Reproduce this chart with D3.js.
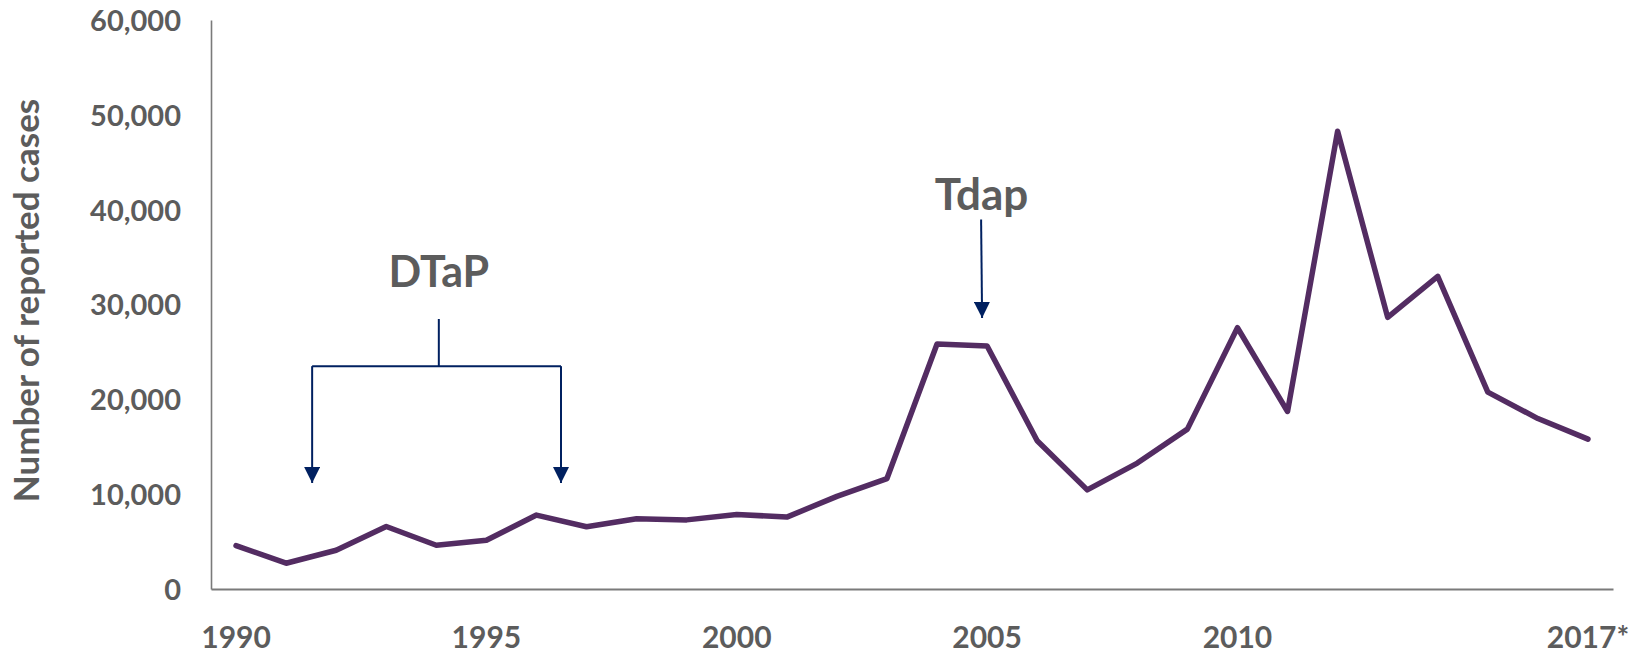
<!DOCTYPE html>
<html>
<head>
<meta charset="utf-8">
<script src="https://cdn.jsdelivr.net/npm/d3@7"></script>
<style>
  html, body { margin: 0; padding: 0; background: #fff; }
  svg { display: block; }
  text { font-family: Lato, "Open Sans", sans-serif; fill: #5c5c5c; }
</style>
</head>
<body>
<svg id="chart" width="1645" height="655"></svg>
<script>
// Reported pertussis cases by year
const years = d3.range(1990, 2018);
const cases = [
  4570, 2719, 4083, 6586, 4617, 5137, 7796, 6564, 7405, 7288,
  7867, 7580, 9771, 11647, 25827, 25616, 15632, 10454, 13278, 16858,
  27550, 18719, 48277, 28639, 32971, 20762, 17972, 15808
];
const yTicks = [0, 10000, 20000, 30000, 40000, 50000, 60000];
const xTickYears = [1990, 1995, 2000, 2005, 2010, 2017];
const xTickLabels = ["1990", "1995", "2000", "2005", "2010", "2017*"];

// Vaccine introduction annotations
const dtapLabel = "DTaP";
const tdapLabel = "Tdap";

const svg = d3.select("#chart");
const plotLeft = 211, plotRight = 1613, plotTop = 20, plotBottom = 589;

const x = d3.scaleBand().domain(years).range([plotLeft, plotRight]);
const y = d3.scaleLinear().domain([0, 60000]).range([plotBottom, plotTop]);
const cx = yr => x(yr) + x.bandwidth() / 2;
// continuous position along the year axis, for annotation placement
const xYear = d3.scaleLinear().domain([1990, 2017]).range([cx(1990), cx(2017)]);

const axisColor = "#7a7a7a";
const textColor = "#5c5c5c";

// Y axis
const gy = svg.append("g").attr("transform", `translate(${plotLeft},0)`)
  .call(d3.axisLeft(y).tickValues(yTicks).tickFormat(d3.format(",")).tickSize(0).tickSizeOuter(0).tickPadding(30));
gy.select(".domain").attr("stroke", axisColor).attr("stroke-width", 1.6);
gy.selectAll("text")
  .attr("font-family", "Lato, sans-serif")
  .attr("font-weight", 700)
  .attr("font-size", 29)
  .attr("fill", textColor)
  .attr("dy", "0.36em");

// X axis
const labelOf = new Map(xTickYears.map((d, i) => [d, xTickLabels[i]]));
const gx = svg.append("g").attr("transform", `translate(0,${plotBottom})`)
  .call(d3.axisBottom(x).tickValues(xTickYears).tickFormat(d => labelOf.get(d)).tickSize(0).tickSizeOuter(0));
gx.select(".domain").attr("stroke", axisColor).attr("stroke-width", 2);
gx.selectAll("text")
  .attr("font-family", "Lato, sans-serif")
  .attr("font-weight", 700)
  .attr("font-size", 30)
  .attr("fill", textColor)
  .attr("y", 59)
  .attr("dy", 0);

// Y axis title
svg.append("text")
  .attr("transform", `translate(39,${(100 + 501) / 2}) rotate(-90)`)
  .attr("text-anchor", "middle")
  .attr("font-size", 35)
  .attr("font-weight", 700)
  .text("Number of reported cases");

// Case line
const line = d3.line()
  .x((d, i) => cx(years[i]))
  .y(d => y(d));
svg.append("path")
  .datum(cases)
  .attr("d", line)
  .attr("fill", "none")
  .attr("stroke", "#532c62")
  .attr("stroke-width", 5.5)
  .attr("stroke-linejoin", "round")
  .attr("stroke-linecap", "round");

// Arrow marker
const navy = "#002060";
svg.append("defs").append("marker")
  .attr("id", "arrow")
  .attr("viewBox", "0 0 10 10")
  .attr("refX", 10).attr("refY", 5)
  .attr("markerWidth", 16).attr("markerHeight", 16)
  .attr("markerUnits", "userSpaceOnUse")
  .attr("orient", "auto")
  .append("path")
  .attr("d", "M0,0 L10,5 L0,10 Z")
  .attr("fill", navy);

// DTaP bracket
const dL = xYear(1991.52), dR = xYear(1996.49), dM = xYear(1994.05);
const barY = y(23500), stemTop = y(28470), tipY = y(11180);
const ann = svg.append("g").attr("stroke", navy).attr("fill", "none").attr("stroke-width", 2);
ann.append("line").attr("x1", dM).attr("x2", dM).attr("y1", stemTop).attr("y2", barY);
ann.append("line").attr("x1", dL).attr("x2", dR).attr("y1", barY).attr("y2", barY);
ann.append("line").attr("x1", dL).attr("x2", dL).attr("y1", barY).attr("y2", tipY).attr("marker-end", "url(#arrow)");
ann.append("line").attr("x1", dR).attr("x2", dR).attr("y1", barY).attr("y2", tipY).attr("marker-end", "url(#arrow)");

svg.append("text")
  .attr("x", dM).attr("y", y(31850))
  .attr("text-anchor", "middle")
  .attr("font-size", 43)
  .attr("font-weight", 700)
  .text(dtapLabel);

// Tdap arrow
const tX1 = xYear(2004.88), tX2 = xYear(2004.9);
ann.append("line").attr("x1", tX1).attr("x2", tX2).attr("y1", y(38970)).attr("y2", y(28580)).attr("marker-end", "url(#arrow)");
svg.append("text")
  .attr("x", xYear(2004.89)).attr("y", y(39970))
  .attr("text-anchor", "middle")
  .attr("font-size", 44)
  .attr("font-weight", 700)
  .text(tdapLabel);
</script>
</body>
</html>
